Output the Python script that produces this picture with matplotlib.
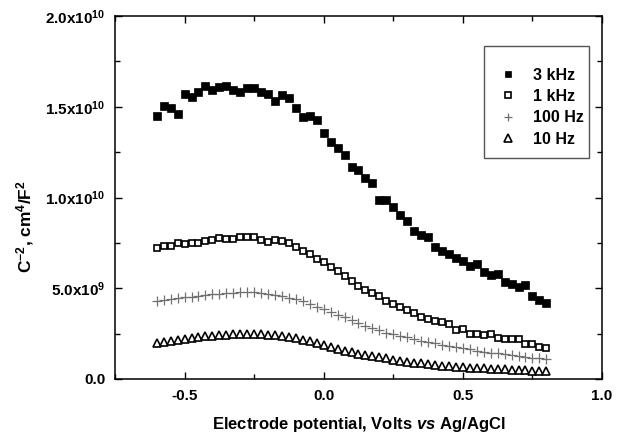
import matplotlib
matplotlib.use("Agg")
import matplotlib.pyplot as plt
from matplotlib.ticker import FixedLocator
from matplotlib.patches import Rectangle

plt.rcParams['font.family'] = ['Liberation Sans', 'DejaVu Sans']
plt.rcParams['mathtext.fontset'] = 'custom'
plt.rcParams['mathtext.rm'] = 'Liberation Sans:bold'
plt.rcParams['mathtext.it'] = 'Liberation Sans:bold:italic'
plt.rcParams['mathtext.bf'] = 'Liberation Sans:bold'
plt.rcParams['mathtext.default'] = 'rm'

potential = [-0.600, -0.575, -0.550, -0.525, -0.500, -0.475, -0.450, -0.425, -0.400, -0.375,
             -0.350, -0.325, -0.300, -0.275, -0.250, -0.225, -0.200, -0.175, -0.150, -0.125,
             -0.100, -0.075, -0.050, -0.025, 0.000, 0.025, 0.050, 0.075, 0.100, 0.125,
             0.150, 0.175, 0.200, 0.225, 0.250, 0.275, 0.300, 0.325, 0.350, 0.375,
             0.400, 0.425, 0.450, 0.475, 0.500, 0.525, 0.550, 0.575, 0.600, 0.625,
             0.650, 0.675, 0.700, 0.725, 0.750, 0.775, 0.800]

c_3khz = [14.51, 15.06, 14.95, 14.60, 15.72, 15.52, 15.81, 16.16, 15.91, 16.11,
          16.16, 15.91, 15.81, 16.01, 16.05, 15.83, 15.72, 15.32, 15.66, 15.48,
          14.95, 14.42, 14.49, 14.25, 13.54, 13.06, 12.73, 12.36, 11.68, 11.50,
          11.06, 10.78, 9.86, 9.86, 9.49, 9.04, 8.71, 8.15, 7.93, 7.81,
          7.26, 7.05, 6.87, 6.68, 6.50, 6.23, 6.34, 5.90, 5.73, 5.79,
          5.33, 5.22, 5.05, 5.18, 4.59, 4.35, 4.17]

c_1khz = [7.20, 7.33, 7.33, 7.51, 7.42, 7.51, 7.51, 7.59, 7.68, 7.77,
          7.70, 7.71, 7.82, 7.82, 7.82, 7.66, 7.55, 7.66, 7.59, 7.48,
          7.29, 7.07, 6.87, 6.62, 6.45, 6.19, 5.95, 5.70, 5.40, 5.14,
          4.90, 4.75, 4.55, 4.28, 4.15, 3.95, 3.80, 3.62, 3.43, 3.31,
          3.20, 3.14, 3.03, 2.70, 2.74, 2.48, 2.46, 2.41, 2.48, 2.26,
          2.19, 2.19, 2.19, 1.95, 1.95, 1.78, 1.69]

c_100hz = [4.31, 4.35, 4.41, 4.44, 4.50, 4.53, 4.57, 4.63, 4.68, 4.70,
           4.74, 4.76, 4.78, 4.78, 4.78, 4.74, 4.70, 4.64, 4.57, 4.48,
           4.39, 4.28, 4.15, 3.98, 3.84, 3.67, 3.53, 3.40, 3.25, 3.07,
           2.94, 2.79, 2.68, 2.55, 2.46, 2.38, 2.30, 2.20, 2.12, 2.04,
           1.97, 1.90, 1.83, 1.76, 1.69, 1.63, 1.57, 1.51, 1.45, 1.41,
           1.36, 1.31, 1.27, 1.22, 1.17, 1.13, 1.08]

c_10hz = [2.00, 2.06, 2.11, 2.17, 2.22, 2.28, 2.31, 2.35, 2.39, 2.42,
          2.44, 2.46, 2.48, 2.48, 2.50, 2.48, 2.44, 2.41, 2.37, 2.31,
          2.24, 2.17, 2.08, 1.98, 1.89, 1.78, 1.67, 1.56, 1.47, 1.38,
          1.31, 1.25, 1.19, 1.13, 1.07, 1.01, 0.95, 0.90, 0.86, 0.81,
          0.77, 0.74, 0.70, 0.67, 0.64, 0.62, 0.60, 0.58, 0.57, 0.55,
          0.53, 0.52, 0.50, 0.48, 0.46, 0.44, 0.42]

labels = ['3 kHz', '1 kHz', '100 Hz', '10 Hz']
x_ticks = [-0.5, 0.0, 0.5, 1.0]
x_tick_labels = ['-0.5', '0.0', '0.5', '1.0']
y_ticks = [0.0, 5.0e9, 1.0e10, 1.5e10, 2.0e10]
y_tick_labels = ['0.0', '5.0x10$^{9}$', '1.0x10$^{10}$', '1.5x10$^{10}$', '2.0x10$^{10}$']

fig = plt.figure(figsize=(6.23, 4.36), dpi=100)
ax = fig.add_axes([115/623, 1-379/436, (602-115)/623, (379-16)/436])

scale = 1e9
ax.plot(potential, [v*scale for v in c_3khz], ls='none', marker='s', ms=5.2,
        mfc='black', mec='black', mew=0.5, label=labels[0])
ax.plot(potential, [v*scale for v in c_1khz], ls='none', marker='s', ms=5.0,
        mfc='white', mec='black', mew=1.2, label=labels[1])
ax.plot(potential, [v*scale for v in c_100hz], ls='none', marker='+', ms=6.5,
        mec='#707070', mew=0.9, label=labels[2])
ax.plot(potential, [v*scale for v in c_10hz], ls='none', marker='^', ms=6.0,
        mfc='white', mec='black', mew=1.2, label=labels[3])

ax.set_xlim(-0.75, 1.0)
ax.set_ylim(0, 2.0e10)
ax.xaxis.set_major_locator(FixedLocator(x_ticks))
ax.xaxis.set_minor_locator(FixedLocator([-0.75, -0.25, 0.25, 0.75]))
ax.yaxis.set_major_locator(FixedLocator(y_ticks))
ax.yaxis.set_minor_locator(FixedLocator([2.5e9, 7.5e9, 1.25e10, 1.75e10]))
ax.set_xticklabels(x_tick_labels, fontsize=11, fontweight='bold')
ax.set_yticklabels(y_tick_labels, fontsize=11, fontweight='bold')
ax.tick_params(which='both', direction='in', top=True, right=True, width=1.0)
ax.tick_params(which='major', length=5, pad=7)
ax.tick_params(which='minor', length=3.5)
for s in ax.spines.values():
    s.set_linewidth(1.1)

ax.set_xlabel('Electrode potential, Volts $\\mathit{vs}$ Ag/AgCl', fontsize=12,
              fontweight='bold', labelpad=9)
ax.set_ylabel('C$^{-2}$, cm$^{4}$/F$^{2}$', fontsize=12.5, fontweight='bold')
ax.yaxis.set_label_coords((36-115)/487, (379-226)/363)

# legend frame
x0 = (484-115)/487
x1 = (589-115)/487
y0 = (379-158)/363
y1 = (379-46)/363
ax.add_patch(Rectangle((x0, y0), x1-x0, y1-y0, transform=ax.transAxes,
                       fill=True, facecolor='white', edgecolor='#555555', lw=1.0, zorder=4))

leg = ax.legend(loc='upper left', bbox_to_anchor=((500-115)/487, (379-67.5)/363),
                frameon=False, fontsize=11.5,
                handlelength=1.0, handletextpad=1.05, borderpad=0, labelspacing=0.40,
                markerscale=0.85, borderaxespad=0)
leg.set_zorder(5)
for t in leg.get_texts():
    t.set_fontweight('bold')

fig.savefig('out.png', dpi=100)
